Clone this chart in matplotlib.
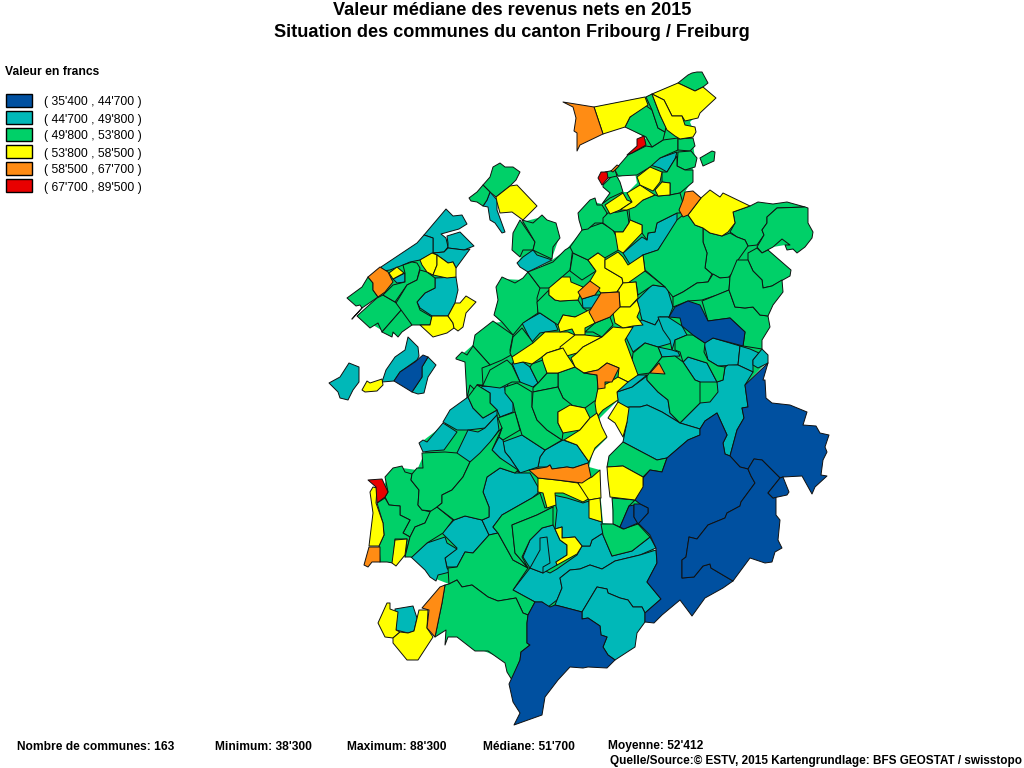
import matplotlib
matplotlib.use('Agg')
import matplotlib.pyplot as plt
from matplotlib.patches import Polygon, Rectangle

plt.rcParams['font.family'] = ['Liberation Sans', 'DejaVu Sans']

TITLE_LINES = ['Valeur médiane des revenus nets en 2015',
               'Situation des communes du canton Fribourg / Freiburg']
LEGEND_TITLE = 'Valeur en francs'
CLASS_LABELS = ["( 35'400 , 44'700 )", "( 44'700 , 49'800 )", "( 49'800 , 53'800 )",
                "( 53'800 , 58'500 )", "( 58'500 , 67'700 )", "( 67'700 , 89'500 )"]
CLASS_COLORS = ['#0050A0', '#00B8B8', '#00D068', '#FFFF00', '#FF8C14', '#E80000']
FOOT_STATS = [(17, 'Nombre de communes: 163'), (215, "Minimum: 38'300"), (347, "Maximum: 88'300"),
              (483, "Médiane: 51'700"), (608, "Moyenne: 52'412")]
SOURCE = 'Quelle/Source:© ESTV, 2015 Kartengrundlage: BFS GEOSTAT / swisstopo'

# rough canton areas under the communes, closes slivers between outlines
canton_areas = [
    [(594,107),(645,97),(652,94),(678,83),(703,87),(714,98),(700,112),(690,122),(694,132),(692,137),(695,158),(693,167),(691,182),(685,192),(701,198),(750,206),(805,207),(808,223),(811,238),(797,252),(785,245),(773,247),(762,252),(768,250),(790,270),(789,276),(781,281),(782,292),(772,305),(767,316),(769,327),(761,340),(761,349),(766,363),(745,385),(748,407),(730,456),(740,467),(650,535),(657,563),(645,613),(637,631),(613,658),(590,662),(560,662),(525,655),(505,660),(477,648),(458,634),(448,632),(447,585),(449,584),(436,579),(413,556),(405,555),(394,561),(386,550),(385,535),(384,523),(378,503),(387,478),(402,468),(417,470),(425,452),(424,440),(445,424),(468,398),(467,364),(458,358),(474,344),(493,323),(501,322),(494,315),(498,300),(497,287),(503,279),(523,280),(528,274),(552,260),(565,251),(582,231),(579,213),(590,201),(602,204),(610,193),(604,187),(618,177),(629,156),(646,138),(626,127),(645,106)],
    [(424,237),(448,240),(460,233),(472,246),(463,252),(455,268),(456,290),(453,303),(447,316),(433,335),(420,324),(412,324),(398,335),(383,331),(358,316),(378,298),(364,287),(370,278),(384,268),(420,245)],
    [(513,250),(514,233),(522,222),(542,217),(555,224),(559,238),(552,258),(528,270),(518,263),(521,257)],
]
# lake and bay that stay white inside those areas
open_water = [
    [(617,401),(600,418),(598,430),(607,438),(593,452),(589,467),(600,470),(600,490),(603,523),(613,524),(612,498),(607,467),(609,456),(624,442),(623,436),(615,423),(608,418),(619,403)],
    [(618,177),(635,173),(637,183),(628,192),(623,192)],
]

# commune outlines, in map units, one list per income class
teal_communes = [
    [(424,235),(446,209),(453,216),(462,215),(467,224),(459,229),(441,234),(446,238),(448,247),(444,252),(433,253),(433,238)],
    [(381,267),(417,243),(424,235),(433,238),(433,253),(420,260),(410,262),(403,265),(390,270),(383,271)],
    [(447,236),(460,232),(474,246),(464,250),(448,248),(448,243)],
    [(444,252),(448,248),(464,250),(470,249),(456,268),(453,262),(448,263),(444,260),(437,255),(433,253)],
    [(393,279),(405,273),(405,282),(397,283)],
    [(435,278),(456,277),(458,290),(455,303),(448,316),(441,316),(432,316),(420,308),(417,302),(425,293),(435,288)],
    [(408,337),(418,347),(419,356),(417,360),(400,372),(394,381),(382,382),(386,370),(395,357),(405,350)],
    [(428,357),(436,365),(428,377),(424,393),(418,394),(412,392),(422,377),(422,367)],
    [(329,383),(340,377),(349,363),(359,367),(359,382),(353,390),(348,400),(340,398),(338,392)],
    [(490,192),(497,200),(497,210),(505,232),(502,233),(495,223),(490,220),(488,207),(483,206),(487,200)],
    [(517,263),(523,257),(533,250),(537,255),(552,260),(528,272),(520,267)],
    [(522,323),(540,313),(555,323),(558,330),(540,333),(532,342),(527,333)],
    [(478,385),(500,388),(505,383),(508,383),(505,400),(487,400)],
    [(512,363),(523,362),(530,367),(538,383),(533,387),(520,382)],
    [(582,299),(595,295),(600,295),(600,302),(592,308),(583,308)],
    [(623,253),(642,237),(647,240),(648,233),(655,232),(657,223),(677,213),(677,222),(658,250),(643,255),(631,266)],
    [(650,165),(660,158),(677,152),(675,159),(667,172),(660,168)],
    [(637,300),(652,285),(667,287),(673,307),(669,317),(660,317),(655,325),(642,320)],
    [(625,335),(637,322),(642,320),(655,325),(660,317),(670,325),(672,343),(658,347),(645,343),(633,352)],
    [(658,317),(668,317),(682,326),(687,335),(675,340),(672,350),(670,340),(663,330)],
    [(658,347),(672,350),(678,352),(680,356),(662,357)],
    [(704,343),(713,338),(740,346),(738,365),(718,366),(708,360)],
    [(740,346),(750,349),(759,353),(753,360),(753,372),(738,365)],
    [(762,349),(768,355),(768,363),(758,368),(753,365),(753,360)],
    [(683,362),(688,357),(707,363),(717,382),(700,382),(695,380)],
    [(725,367),(728,365),(738,365),(753,372),(745,385),(748,407),(742,408),(744,418),(737,430),(730,456),(725,454),(723,443),(727,435),(717,413),(705,421),(700,429),(680,423),(700,403),(710,402),(718,392),(717,382),(723,380)],
    [(617,392),(632,387),(647,376),(647,380),(658,392),(668,400),(670,413),(680,423),(662,412),(647,405),(640,407),(630,407),(623,408),(618,402)],
    [(617,390),(635,375),(647,375),(632,387),(617,392)],
    [(623,408),(630,407),(640,407),(647,405),(662,412),(680,423),(700,429),(700,435),(688,440),(667,458),(657,460),(623,442),(627,422)],
    [(545,450),(563,440),(577,445),(589,462),(588,463),(573,468),(567,467),(552,469),(550,465),(547,467),(538,467),(540,457)],
    [(503,442),(522,435),(545,450),(540,457),(538,467),(529,470),(520,473),(518,470),(510,458),(505,452)],
    [(492,450),(499,437),(503,440),(505,452),(510,458),(520,473),(512,468),(500,458)],
    [(478,386),(490,393),(490,403),(497,410),(500,417),(513,412),(513,403),(505,390),(505,387)],
    [(443,422),(450,410),(468,397),(473,408),(483,418),(497,410),(497,415),(485,428),(468,430),(457,430)],
    [(419,443),(423,440),(427,442),(443,423),(457,432),(444,450),(430,451),(423,452)],
    [(456,455),(468,430),(478,432),(485,428),(497,415),(499,430),(492,440),(477,460),(468,462)],
    [(442,533),(454,520),(465,516),(482,520),(489,535),(473,553),(465,552),(457,567),(447,567),(445,558),(457,548),(447,538)],
    [(411,557),(427,543),(445,537),(447,543),(457,549),(445,558),(447,568),(450,572),(438,575),(436,581),(430,577),(425,570)],
    [(482,520),(489,517),(489,507),(483,492),(487,477),(500,468),(515,473),(530,473),(538,487),(538,493),(532,498),(502,515),(493,527),(498,533),(489,535)],
    [(513,590),(530,568),(543,570),(550,573),(557,569),(577,555),(582,546),(590,546),(592,540),(603,533),(603,535),(612,556),(632,551),(650,537),(656,548),(640,555),(615,561),(602,569),(590,565),(580,569),(570,570),(560,578),(562,588),(557,600),(548,607),(542,602),(535,602)],
    [(557,600),(562,588),(560,578),(570,570),(580,569),(590,565),(602,569),(615,561),(640,555),(656,550),(657,563),(647,582),(661,599),(645,613),(642,607),(633,607),(628,600),(620,598),(608,593),(607,589),(597,587),(582,612),(563,607),(555,605)],
    [(597,587),(607,589),(608,593),(620,598),(628,600),(633,607),(642,607),(645,613),(645,622),(637,633),(635,647),(615,660),(608,655),(603,647),(607,637),(601,635),(600,626),(588,618),(582,619),(582,612)],
    [(553,495),(567,498),(583,503),(589,501),(590,518),(602,522),(603,533),(592,540),(590,546),(582,546),(575,537),(562,538),(562,527),(555,529),(557,510)],
    [(523,557),(530,540),(542,528),(553,525),(555,529),(560,540),(567,545),(567,555),(556,562),(557,565),(543,573),(530,568)],
    [(540,538),(547,537),(550,563),(543,567),(543,573),(530,568),(540,550)],
    [(395,609),(413,606),(417,618),(414,631),(408,633),(400,631),(396,630)],
]
green_communes = [
    [(347,298),(362,287),(368,277),(373,283),(373,290),(378,297),(362,308),(352,319),(362,308),(360,305),(356,306)],
    [(357,316),(377,298),(383,295),(395,302),(403,308),(382,332),(378,323),(370,328)],
    [(403,308),(412,325),(402,332),(398,337),(393,332),(392,337),(382,332)],
    [(403,265),(412,262),(417,263),(420,268),(417,280),(407,285),(395,302),(383,295),(393,285),(405,282),(405,273)],
    [(420,270),(427,272),(435,278),(435,288),(425,293),(417,302),(420,310),(432,317),(430,325),(420,325),(412,325),(396,303),(407,285),(417,280)],
    [(500,163),(505,167),(513,167),(520,172),(516,180),(510,186),(496,197),(490,192),(483,185),(490,177),(493,167)],
    [(469,198),(477,192),(483,185),(490,192),(487,200),(483,206),(477,202),(471,201)],
    [(520,220),(535,242),(533,250),(523,250),(520,257),(512,250),(513,233)],
    [(522,220),(533,223),(542,215),(547,220),(556,223),(560,238),(553,247),(552,259),(537,252),(533,250),(535,242)],
    [(502,277),(515,283),(523,278),(528,272),(540,288),(537,298),(538,313),(523,323),(513,335),(502,322),(494,315),(498,300),(496,287)],
    [(528,272),(553,262),(565,250),(570,247),(573,247),(570,270),(562,277),(550,288),(540,288)],
    [(573,253),(588,260),(596,271),(582,280),(570,271)],
    [(570,247),(582,230),(602,223),(613,230),(622,248),(603,259),(598,253),(588,260),(573,253)],
    [(578,213),(590,200),(595,198),(597,205),(602,205),(607,213),(603,223),(595,223),(588,229),(582,230),(579,220)],
    [(603,218),(608,213),(618,212),(627,210),(629,223),(623,232),(615,232),(603,223)],
    [(603,185),(615,173),(620,182),(623,192),(610,198),(602,204),(610,193),(603,187)],
    [(605,172),(615,170),(617,176),(608,178)],
    [(628,155),(646,146),(652,147),(663,140),(678,138),(678,150),(660,158),(650,167),(637,175),(618,176),(615,170)],
    [(625,127),(630,117),(645,105),(652,110),(658,128),(665,132),(663,140),(652,147),(646,137)],
    [(646,97),(652,94),(660,115),(666,127),(665,132),(658,128),(652,110)],
    [(678,83),(688,75),(692,73),(697,72),(702,72),(708,83),(703,87),(695,91)],
    [(678,139),(693,138),(695,146),(690,151),(678,150)],
    [(678,152),(691,151),(697,158),(695,167),(685,170),(677,166)],
    [(700,158),(712,151),(715,152),(714,161),(703,166)],
    [(677,156),(677,166),(685,170),(693,170),(693,182),(680,193),(670,195),(670,183),(662,182),(662,172),(667,172),(675,159)],
    [(628,208),(643,200),(655,195),(658,196),(670,195),(680,193),(683,203),(680,213),(677,213),(657,223),(655,232),(648,233),(647,240),(642,233),(642,225),(630,220),(629,210)],
    [(730,232),(735,223),(733,212),(750,206),(758,202),(773,204),(787,202),(805,207),(777,208),(767,217),(767,223),(762,230),(764,235),(757,245),(748,246),(745,240),(737,237)],
    [(805,207),(808,208),(808,223),(813,232),(812,238),(805,247),(797,253),(793,249),(787,250),(785,245),(790,245),(782,239),(773,247),(762,253),(757,247),(764,235),(762,230),(767,223),(767,217),(777,208)],
    [(748,253),(757,248),(762,253),(768,250),(791,270),(790,276),(772,286),(763,288),(762,280),(753,271),(748,260)],
    [(703,228),(710,233),(722,236),(730,233),(737,237),(745,240),(748,246),(738,260),(735,270),(728,278),(720,278),(712,274),(705,268),(707,253),(703,242)],
    [(683,215),(688,215),(695,225),(703,228),(703,242),(707,253),(705,268),(712,274),(708,282),(697,283),(683,292),(673,297),(665,287),(645,270),(643,255),(658,250),(677,220)],
    [(673,297),(683,292),(697,283),(708,282),(713,274),(720,278),(730,277),(729,290),(717,295),(702,300),(688,301),(673,307)],
    [(702,301),(729,290),(735,307),(745,308),(753,307),(760,315),(768,316),(770,327),(762,340),(762,349),(743,346),(745,332),(730,318),(708,321)],
    [(730,277),(737,260),(748,260),(753,271),(762,280),(763,288),(772,286),(782,280),(783,292),(773,305),(768,316),(760,315),(753,307),(745,308),(735,307),(729,290)],
    [(675,340),(687,335),(693,335),(705,343),(704,352),(708,360),(718,366),(725,367),(723,380),(717,382),(707,363),(688,357),(683,362),(680,352),(675,350)],
    [(633,353),(645,343),(658,347),(662,357),(650,373),(635,375),(632,362)],
    [(647,376),(662,357),(675,356),(683,362),(695,380),(700,382),(700,403),(680,423),(670,413),(668,400),(658,392),(647,380)],
    [(628,283),(637,273),(645,271),(665,287),(653,285),(638,295),(636,282)],
    [(585,332),(595,323),(610,317),(613,325),(602,337),(593,332)],
    [(475,335),(493,321),(513,335),(510,350),(511,355),(502,360),(490,365),(473,346)],
    [(456,358),(462,352),(467,355),(473,346),(490,365),(482,368),(483,385),(478,393),(470,385),(467,398),(465,362),(456,359)],
    [(483,385),(490,370),(507,360),(512,365),(520,382),(512,382),(500,388),(477,385)],
    [(513,337),(522,328),(535,345),(512,357),(510,353)],
    [(537,302),(549,290),(549,295),(555,300),(560,301),(578,300),(583,308),(589,312),(575,317),(563,315),(558,325),(555,323),(540,313),(538,313)],
    [(558,373),(575,367),(584,373),(597,375),(598,389),(596,400),(585,408),(570,405),(563,398),(558,387)],
    [(533,388),(538,383),(547,373),(558,373),(558,387),(533,392)],
    [(532,364),(543,360),(547,373),(538,383),(530,367)],
    [(505,387),(517,383),(532,392),(532,407),(537,420),(547,430),(562,440),(545,450),(522,435),(515,412),(513,403),(505,393)],
    [(533,392),(558,387),(563,398),(572,405),(558,412),(558,423),(563,433),(562,440),(547,430),(537,420),(532,407)],
    [(498,418),(515,412),(520,430),(503,440),(499,437),(502,428)],
    [(468,397),(477,385),(490,393),(490,403),(497,410),(483,418),(473,408)],
    [(385,477),(393,468),(402,466),(405,472),(412,474),(411,480),(419,490),(418,505),(422,510),(431,512),(425,523),(415,527),(410,537),(403,533),(410,520),(400,515),(400,506),(389,505),(385,497),(388,492)],
    [(377,503),(385,498),(389,505),(400,506),(400,515),(410,520),(403,533),(410,537),(405,557),(407,539),(395,539),(393,563),(387,562),(380,562),(379,546),(384,535),(383,523)],
    [(431,510),(437,507),(453,520),(443,533),(427,543),(412,557),(405,557),(410,537),(415,527),(425,523)],
    [(422,453),(445,452),(457,453),(470,462),(463,477),(452,490),(442,495),(442,503),(437,507),(431,511),(422,510),(418,505),(419,490),(411,480),(412,474),(417,468),(423,468)],
    [(470,462),(480,453),(490,442),(498,432),(502,428),(492,450),(500,458),(518,470),(515,473),(500,468),(487,477),(483,492),(489,507),(489,517),(482,520),(465,516),(454,520),(437,507),(442,503),(442,495),(452,490),(463,477)],
    [(448,568),(457,567),(465,552),(473,553),(489,535),(498,533),(513,560),(528,568),(513,590),(535,602),(528,615),(523,613),(516,598),(498,601),(488,597),(472,585),(462,587),(457,580),(449,584)],
    [(449,584),(457,580),(462,587),(472,585),(488,597),(498,601),(516,598),(523,613),(528,615),(527,623),(527,643),(530,645),(521,652),(520,660),(512,680),(507,672),(505,663),(488,651),(475,651),(457,637),(448,637),(445,645),(446,630),(435,637),(442,603),(445,585)],
    [(493,527),(502,515),(532,498),(540,493),(545,508),(553,505),(553,507),(537,515),(512,525),(515,553),(528,568),(513,560),(498,533)],
    [(512,525),(537,515),(553,507),(553,525),(542,528),(530,540),(522,557),(528,568),(515,553)],
    [(612,498),(635,500),(629,506),(620,527),(613,524),(613,510)],
    [(601,524),(613,524),(623,529),(638,524),(650,537),(632,551),(612,556),(603,535)],
    [(609,456),(623,442),(657,460),(667,458),(662,472),(650,470),(643,477),(623,466),(607,467)],
]
yellow_communes = [
    [(420,260),(432,253),(437,255),(437,265),(433,275),(427,272),(422,265)],
    [(437,255),(444,260),(448,263),(453,262),(456,268),(456,277),(447,278),(433,275),(437,265)],
    [(389,273),(397,267),(404,273),(393,279)],
    [(420,325),(430,325),(432,316),(441,316),(448,316),(453,323),(454,328),(447,333),(433,337)],
    [(448,316),(455,303),(460,303),(466,296),(476,302),(466,313),(463,327),(458,331),(454,328),(453,323)],
    [(362,390),(367,381),(370,383),(382,379),(383,385),(377,391),(365,392)],
    [(496,197),(510,186),(517,185),(537,206),(523,220),(512,212),(500,213),(497,202)],
    [(594,107),(645,97),(648,105),(630,117),(625,127),(603,134)],
    [(652,94),(678,83),(695,91),(703,87),(716,98),(700,113),(698,118),(685,121),(682,116),(672,116),(664,100)],
    [(652,94),(664,100),(672,116),(682,116),(685,125),(695,127),(696,132),(693,137),(680,139),(675,136),(667,130),(660,115)],
    [(605,205),(623,193),(627,200),(632,202),(620,210),(610,214)],
    [(627,193),(640,185),(655,195),(643,200),(635,207),(627,210),(620,210),(632,202)],
    [(637,177),(650,167),(662,172),(660,182),(653,191),(640,185)],
    [(655,190),(662,182),(670,183),(670,195),(658,196)],
    [(701,198),(710,190),(720,197),(723,193),(750,206),(733,212),(735,223),(728,232),(722,236),(710,233),(703,228),(695,225),(688,215)],
    [(615,232),(623,232),(629,223),(630,220),(642,225),(642,233),(623,253),(618,250)],
    [(512,357),(533,343),(545,332),(568,332),(575,335),(565,347),(547,353),(542,357),(532,364),(523,362),(514,364)],
    [(558,325),(563,315),(575,317),(593,308),(590,313),(597,322),(585,328),(585,335),(575,335),(572,329),(560,332)],
    [(549,288),(562,277),(570,277),(571,282),(583,287),(578,300),(560,301),(555,300),(549,295)],
    [(588,260),(598,253),(605,258),(605,268),(622,278),(623,283),(617,292),(601,293),(590,281),(596,271)],
    [(605,260),(618,252),(623,257),(628,265),(643,255),(645,271),(628,283),(623,283),(622,278),(605,268)],
    [(617,292),(623,283),(636,282),(638,298),(630,307),(620,307),(619,292)],
    [(612,308),(620,307),(630,307),(637,300),(640,310),(637,317),(643,325),(633,326),(623,328),(615,323)],
    [(560,347),(575,335),(585,335),(602,337),(583,347),(577,353),(563,357)],
    [(577,353),(583,347),(602,337),(613,327),(623,328),(633,327),(625,340),(638,375),(628,382),(618,377),(619,368),(607,363),(598,370),(584,373),(575,367),(571,358)],
    [(542,357),(547,353),(563,348),(567,355),(575,367),(558,373),(547,373),(543,362)],
    [(597,393),(598,388),(608,383),(613,380),(618,377),(628,382),(617,392),(618,400),(603,410),(597,417),(595,403)],
    [(608,418),(618,402),(629,408),(627,422),(623,437),(615,423)],
    [(558,412),(570,405),(585,408),(590,418),(580,430),(563,433),(558,423)],
    [(564,440),(580,430),(590,418),(597,413),(602,427),(607,437),(595,448),(589,462),(577,445)],
    [(607,467),(623,466),(643,477),(643,487),(635,500),(610,497),(608,480)],
    [(370,492),(373,487),(377,488),(376,503),(383,523),(384,535),(379,546),(369,546),(373,513)],
    [(395,540),(407,539),(405,555),(396,566),(392,563)],
    [(538,478),(557,480),(578,483),(590,498),(583,502),(563,493),(555,493),(556,505),(547,508),(543,493),(538,492)],
    [(578,483),(592,477),(600,470),(601,498),(589,500)],
    [(589,500),(600,498),(602,522),(589,518)],
    [(555,529),(562,527),(562,538),(575,537),(582,546),(577,554),(557,565),(556,562),(567,555),(567,545),(560,540)],
    [(390,603),(390,609),(398,612),(396,630),(400,632),(393,638),(385,637),(378,623),(387,603)],
    [(414,631),(419,610),(428,610),(427,628),(433,637),(418,660),(407,660),(393,643),(393,638),(400,632),(408,633)],
]
orange_communes = [
    [(368,277),(380,267),(388,272),(393,282),(385,292),(378,297),(373,290),(373,283)],
    [(563,102),(594,107),(603,134),(580,145),(577,151),(577,133),(574,131),(576,118),(573,107)],
    [(611,171),(617,165),(619,166),(613,172)],
    [(685,192),(693,191),(701,198),(688,215),(683,217),(679,210),(683,200)],
    [(578,292),(590,281),(600,288),(595,295),(582,299)],
    [(589,312),(601,293),(619,292),(620,307),(610,317),(595,323)],
    [(584,373),(598,370),(607,363),(619,368),(612,382),(605,382),(605,388),(598,389),(597,375)],
    [(650,373),(659,363),(665,374)],
    [(529,470),(547,467),(550,465),(552,469),(567,467),(573,468),(588,463),(591,477),(582,483),(557,480),(538,478)],
    [(369,547),(380,547),(380,562),(372,562),(368,567),(364,565)],
    [(422,608),(440,587),(445,585),(442,603),(435,637),(427,628),(429,610)],
]
red_communes = [
    [(598,178),(601,172),(607,172),(608,178),(602,185)],
    [(627,155),(637,146),(637,139),(644,136),(646,145),(632,153)],
    [(368,480),(382,479),(388,492),(385,497),(377,503),(376,487)],
]
blue_communes = [
    [(394,381),(400,372),(415,362),(423,355),(428,357),(422,367),(422,377),(412,392)],
    [(669,317),(675,307),(688,301),(700,305),(708,321),(730,318),(745,332),(743,346),(728,342),(713,338),(705,343),(693,335),(682,326),(680,318)],
    [(768,363),(763,380),(765,380),(766,398),(772,403),(790,405),(807,412),(803,425),(816,426),(820,433),(829,435),(825,447),(827,452),(823,460),(821,475),(827,476),(815,487),(812,494),(802,476),(783,477),(780,478),(762,460),(754,459),(748,469),(740,467),(730,456),(737,430),(744,418),(742,408),(748,407),(745,385)],
    [(717,413),(727,435),(723,443),(725,454),(730,456),(740,467),(748,469),(751,476),(755,483),(741,502),(740,506),(727,513),(725,518),(708,525),(697,539),(689,537),(686,557),(682,560),(682,578),(694,577),(703,566),(710,564),(711,568),(733,581),(723,588),(705,598),(692,616),(680,600),(662,615),(654,623),(645,622),(645,613),(661,599),(647,582),(657,563),(656,548),(650,535),(638,523),(648,513),(648,508),(640,504),(635,500),(643,485),(643,478),(650,470),(662,472),(667,458),(688,440),(700,435),(700,429),(705,421)],
    [(748,469),(754,459),(762,460),(780,478),(768,493),(773,498),(776,497),(776,515),(780,520),(778,540),(782,548),(775,552),(772,562),(765,563),(750,558),(733,581),(711,568),(710,564),(703,566),(694,577),(682,578),(682,560),(686,557),(689,537),(697,539),(708,525),(725,518),(727,513),(740,506),(741,502),(755,483),(751,476)],
    [(780,478),(783,477),(789,492),(787,495),(773,498),(768,493)],
    [(620,527),(629,506),(634,505),(634,517),(638,523),(624,529)],
    [(634,504),(640,504),(648,508),(648,513),(638,524),(634,517)],
    [(535,602),(542,602),(550,607),(555,605),(563,607),(582,612),(582,619),(588,618),(600,626),(601,635),(607,637),(603,647),(608,655),(615,660),(607,668),(588,667),(583,668),(570,667),(558,680),(545,697),(542,715),(514,725),(520,713),(513,702),(509,684),(520,660),(521,652),(530,645),(527,643),(527,623),(528,615)],
]

fig = plt.figure(figsize=(10.24, 7.68), dpi=100)
ax = fig.add_axes([0, 0, 1, 1])
ax.set_xlim(0, 1024)
ax.set_ylim(768, 0)
ax.axis('off')

for pts in canton_areas:
    ax.add_patch(Polygon(pts, closed=True, facecolor=CLASS_COLORS[2], edgecolor='none'))
for pts in open_water:
    ax.add_patch(Polygon(pts, closed=True, facecolor='white', edgecolor='none'))

# drawn big classes first so small communes stay on top
layers = [(teal_communes, 1), (green_communes, 2), (blue_communes, 0),
          (yellow_communes, 3), (orange_communes, 4), (red_communes, 5)]
for outlines, cls in layers:
    for pts in outlines:
        ax.add_patch(Polygon(pts, closed=True, facecolor=CLASS_COLORS[cls],
                             edgecolor='#101010', linewidth=0.7, joinstyle='round'))

for i, line in enumerate(TITLE_LINES):
    ax.text(512, 15 + i * 22, line, ha='center', va='baseline', fontsize=13.1, fontweight='bold')

ax.text(5, 75, LEGEND_TITLE, ha='left', va='baseline', fontsize=8.7, fontweight='bold')
for i, label in enumerate(CLASS_LABELS):
    y = 100 + i * 17
    ax.add_patch(Rectangle((6, y - 6.5), 26, 13, facecolor=CLASS_COLORS[i], edgecolor='black', linewidth=1))
    ax.text(44, y + 5.5, label, ha='left', va='baseline', fontsize=8.7)

for x, s in FOOT_STATS:
    ax.text(x, 749.5, s, ha='left', va='baseline', fontsize=8.65, fontweight='bold')
ax.text(1022, 764, SOURCE, ha='right', va='baseline', fontsize=8.45, fontweight='bold')

fig.savefig('out.png', dpi=100)
plt.close(fig)
